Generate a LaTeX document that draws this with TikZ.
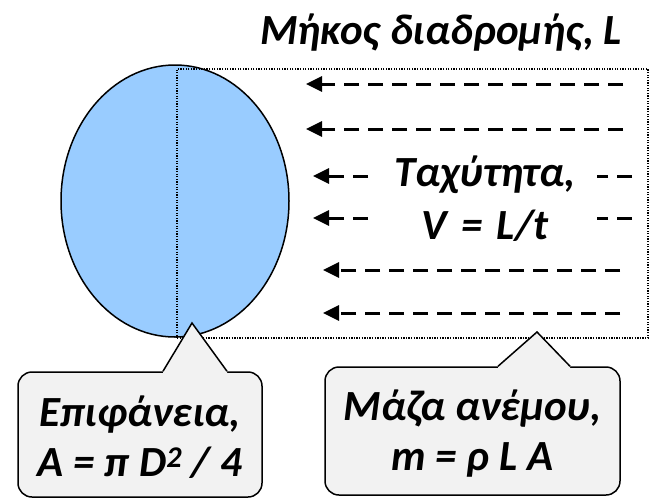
\documentclass[tikz,border=0pt]{standalone}
\usepackage{fontspec}
\setmainfont{Carlito}
\usepackage{xcolor}
\usetikzlibrary{shapes.geometric, arrows.meta, positioning}
\definecolor{skyfill}{HTML}{99CCFF}
\definecolor{notefill}{HTML}{F2F2F2}

\begin{document}
\begin{tikzpicture}[x=1pt, y=-1pt]
\tikzstyle{label} = [font=\fontsize{43}{50}\selectfont\bfseries\itshape, align=center, inner sep=0pt]
\tikzstyle{wind} = [line width=3pt, dash pattern=on 15pt off 9pt, -{Triangle[length=16pt, width=15pt]}]
\tikzstyle{note} = [rectangle, rounded corners=14pt, draw=black, line width=1.5pt, fill=notefill]
\tikzstyle{edge} = [line width=1.2pt, dash pattern=on 1.3pt off 1.3pt]

\useasboundingbox (0,0) rectangle (656,499);

\node (title) [label, anchor=base] at (441,44) {Μήκος διαδρομής, L};

\node (disc) [ellipse, draw=black, line width=1.5pt, fill=skyfill, minimum width=228pt, minimum height=272pt, inner sep=0pt] at (175,201) {};
\node (tube) [rectangle, edge, draw=black, minimum width=471pt, minimum height=269pt, inner sep=0pt] at (412.5,203.5) {};

\foreach \r/\y/\xs/\xe in {1/84/623/306, 2/129/623/306, 3/176/632/313, 4/218/632/313, 5/270/620/323, 6/313/620/323} {
  \coordinate (ws\r) at (\xs,\y);
  \coordinate (we\r) at (\xe,\y);
  \draw [wind] (ws\r) -- (we\r);
}

\node (speed) [label, fill=white, text width=224pt, anchor=base] at (485,186) {Ταχύτητα,};
\node (speedeq) [label, fill=white, text width=224pt, anchor=base] at (485,239) {V = L/t};

\node (area) [note, minimum width=244pt, minimum height=125pt] at (140,434.5) {};
\node (areatext) [label] at ([yshift=-3pt]area.center) {Επιφάνεια,\\ A = π D\textsuperscript{2} / 4};
\coordinate (areatip) at (192,323);
\fill [notefill] ([xshift=23pt]area.north) -- (areatip) -- ([xshift=87pt]area.north) -- ([xshift=87pt, yshift=-2pt]area.north) -- ([xshift=23pt, yshift=-2pt]area.north) -- cycle;
\draw [line width=1.5pt, line join=miter] ([xshift=23pt]area.north) -- (areatip) -- ([xshift=87pt]area.north);

\node (mass) [note, minimum width=295pt, minimum height=128pt] at (472.5,431) {};
\node (masstext) [label] at ([yshift=-3pt]mass.center) {Μάζα ανέμου,\\ m = ρ L A};
\coordinate (masstip) at (537,332);
\fill [notefill] ([xshift=25.5pt]mass.north) -- (masstip) -- ([xshift=97.5pt]mass.north) -- ([xshift=97.5pt, yshift=-2pt]mass.north) -- ([xshift=25.5pt, yshift=-2pt]mass.north) -- cycle;
\draw [line width=1.5pt, line join=miter] ([xshift=25.5pt]mass.north) -- (masstip) -- ([xshift=97.5pt]mass.north);
\end{tikzpicture}
\end{document}
